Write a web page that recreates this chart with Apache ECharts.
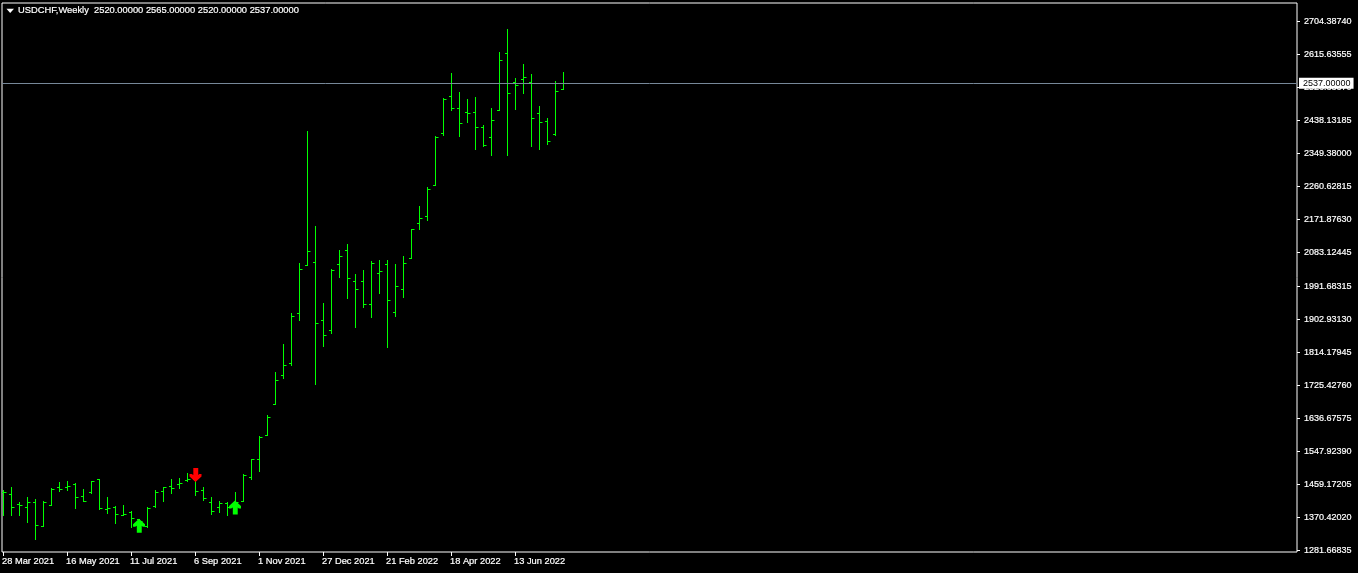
<!DOCTYPE html>
<html><head><meta charset="utf-8">
<style>html,body{margin:0;padding:0;background:#000;overflow:hidden}#c{width:1358px;height:573px}</style>
<script src="https://cdn.jsdelivr.net/npm/echarts@6/dist/echarts.min.js"></script>
</head><body><div id="c"></div>
<script>
var opens=[1437.1,1431.7,1404.8,1396.7,1410.2,1344.8,1402.1,1450.5,1448.8,1458.6,1426.3,1436.2,1470.3,1391.4,1397.6,1376.1,1382.4,1364.5,1344.8,1399.4,1438.9,1454.1,1457.7,1469.4,1470.3,1441.6,1409.3,1396.7,1406.6,1405,1411.9,1476.5,1525.9,1589.4,1673.9,1751.8,1784.1,1918.6,2047.7,2055.8,1899.8,1872.9,2050.4,2088.0,2004.7,2004.7,1942.8,2026.2,2050.4,1921.3,1983.1,2066.5,2160.6,2179.5,2262.8,2402.7,2502.2,2469.9,2459.2,2459.2,2418.9,2391.9,2464.6,2617.9,2539.9,2547.9,2538.0,2456.5,2435.0,2400.0,2520];
var highs=[1440.7,1448.8,1410.2,1421.9,1418.3,1411.1,1447.8,1464.0,1466.7,1461.3,1445.1,1466.7,1472.1,1421.9,1399.4,1402.1,1386.0,1364.5,1396.7,1442.5,1450.5,1470.3,1474.7,1486.4,1483.7,1450.5,1421.9,1412.9,1409.3,1435.3,1485.6,1525.9,1586.7,1644.3,1760.7,1836.0,1916.7,2053.1,2406.2,2150.7,1943.6,2037.7,2086.2,2102.3,2021.6,2035.0,2056.6,2059.3,2061.9,2048.5,2070.0,2145.3,2204.5,2255.6,2395.4,2497.6,2562.2,2511.1,2492.3,2500.3,2425.0,2470.7,2621.3,2683.2,2551.4,2586.4,2559.5,2476.1,2441.2,2540.7,2565];
var lows=[1374.3,1374.3,1374.3,1355.5,1309.8,1344.8,1402.1,1438.9,1442.5,1393.2,1412.9,1434.4,1391.4,1380.6,1352.8,1374.3,1342.1,1342.1,1342.1,1396.7,1412.0,1433.5,1447.0,1466.7,1428.1,1414.7,1377.0,1382.4,1374.3,1389.5,1411.1,1471.1,1492.6,1589.4,1673.9,1741.9,1777.7,1897.9,2046.6,1725.8,1828.0,1863.0,2016.2,1957.1,1879.1,1935.5,1908.6,1970.5,1825.3,1911.3,1962.4,2065.4,2145.3,2169.5,2261.8,2398.1,2462.7,2395.4,2430.4,2357.8,2368.5,2344.3,2462.7,2344.3,2465.4,2508.4,2365.9,2357.8,2373.9,2398.1,2520];
var closes=[1437.1,1396.7,1403.0,1410.2,1348.3,1410.2,1446.0,1445.1,1452.3,1423.6,1412.9,1464.9,1393.2,1393.2,1377.9,1378.8,1367.2,1358.2,1394.9,1437.1,1448.8,1447.8,1461.3,1471.2,1439.8,1420.9,1384.2,1407.5,1396.7,1409.3,1482.9,1525.9,1585.1,1638.9,1738.4,1778.8,1910.5,2036.9,2085.3,1891.7,1859.4,2034.2,2071.9,2012.7,1983.1,1942.8,2053.1,2031.6,1953.6,1991.2,2053.1,2144.5,2174.1,2252.1,2391.9,2494.1,2469.9,2429.6,2456.5,2418.9,2370.4,2437.7,2599.0,2510.3,2531.8,2553.3,2443.0,2432.3,2381.2,2515.7,2537];
var yTicks=[2704.3874,2615.63555,2526.8837,2438.13185,2349.38,2260.62815,2171.8763,2083.12445,1991.68315,1902.9313,1814.17945,1725.4276,1636.67575,1547.9239,1459.17205,1370.4202,1281.66835];
var xTickBars=[0,8,16,24,32,40,48,56,64];
var xTickLabels=["28 Mar 2021","16 May 2021","11 Jul 2021","6 Sep 2021","1 Nov 2021","27 Dec 2021","21 Feb 2022","18 Apr 2022","13 Jun 2022"];
var buyArrows=[[17,1347],[29,1396.5]];
var sellArrows=[[24,1483.4]];
var lastPrice=2537;
var titleText="USDCHF,Weekly  2520.00000 2565.00000 2520.00000 2537.00000";
var upArrow="path://M5.5 0L11 5.5L11 8L9 8L8 7L8 14L3.5 14L3.5 7L2 8L0 8L0 5.5Z";
var downArrow="path://M5.5 14L11 8.5L11 6L9 6L8 7L8 0L3.5 0L3.5 7L2 6L0 6L0 8.5Z";
var FONT='"Liberation Sans"';
var labelBars=xTickBars.map(function(b){return b-0.125;});
var bars=opens.map(function(o,i){return [i,o,highs[i],lows[i],closes[i]];});
var chart=echarts.init(document.getElementById('c'),null,{renderer:'canvas'});
chart.setOption({
 animation:false,backgroundColor:'#000',
 title:{text:titleText,left:13,top:1,textStyle:{color:'#fff',fontFamily:FONT,fontWeight:'normal',fontSize:9.33,textBorderColor:'#fff',textBorderWidth:0.2}},
 graphic:[{type:'polygon',shape:{points:[[6.5,8.7],[14,8.7],[10.2,13]]},style:{fill:'#fff'}}],
 grid:{left:2,right:61,top:3,bottom:21,show:true,borderColor:'#fff',borderWidth:1,backgroundColor:'#000',outerBoundsMode:'none'},
 xAxis:{type:'value',min:-0.125,max:161.75,splitLine:{show:false},
  axisLine:{show:false,onZero:false},
  axisTick:{show:true,length:4,lineStyle:{color:'#fff'},customValues:xTickBars},
  axisLabel:{color:'#fff',fontFamily:FONT,fontSize:9.3,margin:5,align:'left',customValues:labelBars,hideOverlap:false,textBorderColor:'#fff',textBorderWidth:0.2,
   formatter:function(v){return xTickLabels[labelBars.indexOf(v)];}}},
 yAxis:{type:'value',position:'right',min:1276.6,max:2753.13,splitLine:{show:false},
  axisLine:{show:false,onZero:false},
  axisTick:{show:true,length:3,lineStyle:{color:'#fff'},customValues:yTicks},
  axisLabel:{color:'#fff',fontFamily:FONT,fontSize:9,margin:7,align:'left',customValues:yTicks,hideOverlap:false,textBorderColor:'#fff',textBorderWidth:0.2,
   formatter:function(v){return v.toFixed(5);}}},
 series:[
  {type:'custom',silent:true,clip:true,encode:{x:0,y:[1,2,3,4]},data:bars,
   renderItem:function(p,api){
    var i=api.value(0),
     X=Math.round(api.coord([i,0])[0])+0.5,
     row=function(v){return Math.floor(api.coord([i,v])[1])+0.5;},
     O=row(api.value(1)),H=row(api.value(2)),L=row(api.value(3)),C=row(api.value(4));
    var st={stroke:'#00ff00',lineWidth:1,fill:null};
    return {type:'group',children:[
     {type:'line',shape:{x1:X,y1:H-0.5,x2:X,y2:L+0.5},style:st},
     {type:'line',shape:{x1:X-2.5,y1:O,x2:X,y2:O},style:st},
     {type:'line',shape:{x1:X,y1:C,x2:X+3,y2:C},style:st}]};
   },
   markLine:{silent:true,symbol:'none',animation:false,
    lineStyle:{color:'#778899',width:1,type:'solid'},
    label:{show:true,position:'end',distance:2,color:'#000',backgroundColor:'#fff',fontFamily:FONT,fontSize:9,padding:[1,3,1,4],
     formatter:function(){return lastPrice.toFixed(5);}},
    data:[{yAxis:lastPrice}]}},
  {type:'scatter',silent:true,symbol:upArrow,symbolSize:[12,14],itemStyle:{color:'#00ff00',opacity:1},data:buyArrows},
  {type:'scatter',silent:true,symbol:downArrow,symbolSize:[12,14],symbolOffset:[0.5,0],itemStyle:{color:'#ff0000',opacity:1},data:sellArrows}
 ]
});
</script></body></html>
